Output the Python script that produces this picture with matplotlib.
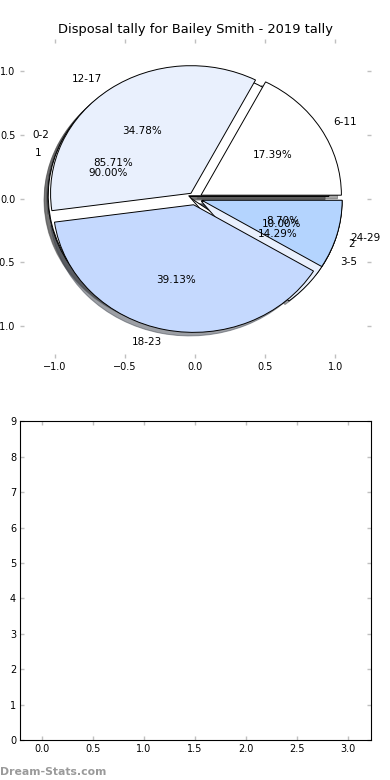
import matplotlib
matplotlib.use('Agg')
import matplotlib.pyplot as plt

# disposal ranges, games per range
disp_labels = ['6-11', '12-17', '18-23', '24-29']
disp_counts = [4, 8, 9, 2]

# second and third breakdowns drawn under the main pie
kick_labels = ['0-2', '3-5']
kick_counts = [6, 1]

goal_labels = ['1', '2']
goal_counts = [9, 1]

colors = ['#ffffff', '#e9f0fd', '#c5d9fe', '#b4d4fe']

fig = plt.figure(figsize=(3.9, 7.8), dpi=100)

ax = fig.add_axes([0.05, 0.541, 0.9, 0.409])
props = {'fontsize': 7.5}
wedge = {'linewidth': 0.7, 'edgecolor': 'black'}

ax.pie(goal_counts, labels=goal_labels, colors=colors[:2], explode=[0.05] * 2,
       autopct='%1.2f%%', shadow=True, textprops=props, wedgeprops=wedge)
ax.pie(kick_counts, labels=kick_labels, colors=colors[:2], explode=[0.05] * 2,
       autopct='%1.2f%%', shadow=True, textprops=props, wedgeprops=wedge)
ax.pie(disp_counts, labels=disp_labels, colors=colors, explode=[0.05] * 4,
       autopct='%1.2f%%', shadow=True, textprops=props, wedgeprops=wedge)

ax.set_aspect('auto')
ax.set_frame_on(False)
ax.set_xlim(-1.25, 1.25)
ax.set_ylim(-1.25, 1.25)
ax.set_xticks([-1.0, -0.5, 0.0, 0.5, 1.0])
ax.set_yticks([-1.0, -0.5, 0.0, 0.5, 1.0])
ax.tick_params(direction='in', length=3, width=1, color='#c0c0c0', labelsize=7,
               top=True, right=True, pad=3)
ax.set_title('Disposal tally for Bailey Smith - 2019 tally', fontsize=9.4, pad=4)

ax2 = fig.add_axes([0.05, 0.051, 0.9, 0.409])
ax2.set_xlim(-0.22, 3.22)
ax2.set_ylim(0, 9)
ax2.set_xticks([0.0, 0.5, 1.0, 1.5, 2.0, 2.5, 3.0])
ax2.set_yticks(range(10))
ax2.tick_params(direction='in', length=3, width=1, color='#c0c0c0', labelsize=7,
                top=True, right=True, pad=2.5)
for s in ax2.spines.values():
    s.set_linewidth(0.8)

fig.text(0.0, 0.006, 'Dream-Stats.com', fontsize=7.8, color='#9a9a9a',
         fontweight='bold')

fig.savefig('out.png', dpi=100)
